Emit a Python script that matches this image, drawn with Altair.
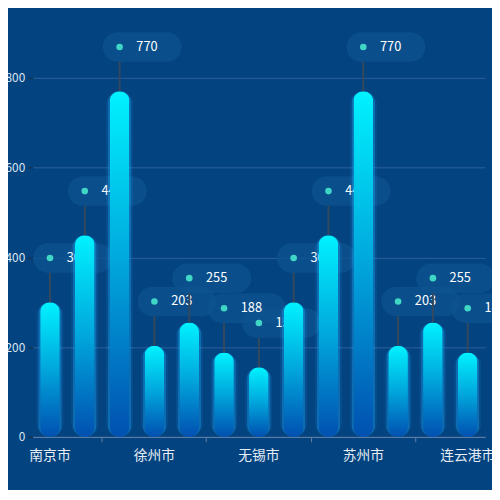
import altair as alt
import pandas as pd

cities = ["南京市", "常州市", "南通市", "徐州市", "淮安市", "盐城市", "无锡市",
          "扬州市", "镇江市", "苏州市", "泰州市", "宿迁市", "连云港市"]
values = [300, 449, 770, 203, 255, 188, 155, 300, 449, 770, 203, 255, 188]
shown_labels = ["南京市", "徐州市", "无锡市", "苏州市", "连云港市"]
tick_at = ["南通市", "盐城市", "镇江市", "宿迁市"]
y_ticks = [0, 200, 400, 600, 800]

df = pd.DataFrame({"city": cities, "value": values})

FONT = "Noto Sans CJK SC"
shown_expr = "indexof(" + str(shown_labels) + ", datum.value) >= 0 ? datum.label : ''"
tick_expr = "indexof(" + str(tick_at) + ", datum.value) >= 0"

x_scale = alt.Scale(domain=cities, paddingInner=0, paddingOuter=0)
x_enc = alt.X("city:N", sort=cities, title=None, scale=x_scale,
              axis=alt.Axis(labelExpr=shown_expr, labelAngle=0, labelFontSize=14,
                            labelColor="#e6edf5", labelFont=FONT, labelPadding=7,
                            domainColor="#6482a8", tickColor="#6482a8", tickSize=5,
                            bandPosition=0, grid=False, labelOverlap=False,
                            tickOpacity={"condition": {"test": tick_expr, "value": 1}, "value": 0}))
x_plain = alt.X("city:N", sort=cities, scale=x_scale)
y_scale = alt.Scale(domain=[0, 800], nice=False)
y_enc = alt.Y("value:Q", scale=y_scale, title=None,
              axis=alt.Axis(values=y_ticks, labelFontSize=12, labelColor="#dce6f2",
                            labelFont=FONT, labelPadding=3, domain=False,
                            tickColor="#1f2d3d", tickSize=5,
                            grid=True, gridColor="#2c6199", gridWidth=1))
y_plain = alt.Y("value:Q", scale=y_scale)

base = alt.Chart(df)

boxes = base.mark_bar(width=80, cornerRadius=15, xOffset=23, yOffset=-60, y2Offset=-30,
                      color="#0d538f", opacity=0.8).encode(
    x=x_enc, y=y_enc, y2=alt.Y2("value:Q"))

dots = base.mark_circle(size=45, color="#3fd6c6", opacity=1, yOffset=-45).encode(
    x=x_plain, y=y_plain)

texts = base.mark_text(align="left", baseline="middle", dx=17, dy=-45, fontSize=13,
                       color="#ffffff", font=FONT).encode(
    x=x_plain, y=y_plain, text="value:Q")

lines = base.mark_rule(color="#34495e", strokeWidth=2, yOffset=-30, y2Offset=0).encode(
    x=x_plain, y=y_plain, y2=alt.Y2("value:Q"))

glow2 = base.mark_bar(width=28, cornerRadius=14, color="#1e9bff", opacity=0.12).encode(
    x=x_plain, y=y_plain)
glow1 = base.mark_bar(width=24, cornerRadius=12, color="#22b8ff", opacity=0.3).encode(
    x=x_plain, y=y_plain)

grad = alt.Gradient(gradient="linear",
                    stops=[alt.GradientStop(color="#00f2ff", offset=0),
                           alt.GradientStop(color="#00a6dc", offset=0.5),
                           alt.GradientStop(color="#0150b0", offset=1)],
                    x1=0, x2=0, y1=0, y2=1)
bars = base.mark_bar(width=20, cornerRadius=10, color=grad).encode(
    x=x_plain, y=y_plain)

chart = alt.layer(boxes, dots, texts, lines, glow2, glow1, bars).properties(
    width=460, height=365,
    background="#03437f",
    padding={"left": 25, "top": 67, "right": 7, "bottom": 50},
    autosize=alt.AutoSizeParams(type="none"),
).configure_view(stroke=None)

chart.save("out.html", embed_options={"renderer": "svg", "actions": False})
